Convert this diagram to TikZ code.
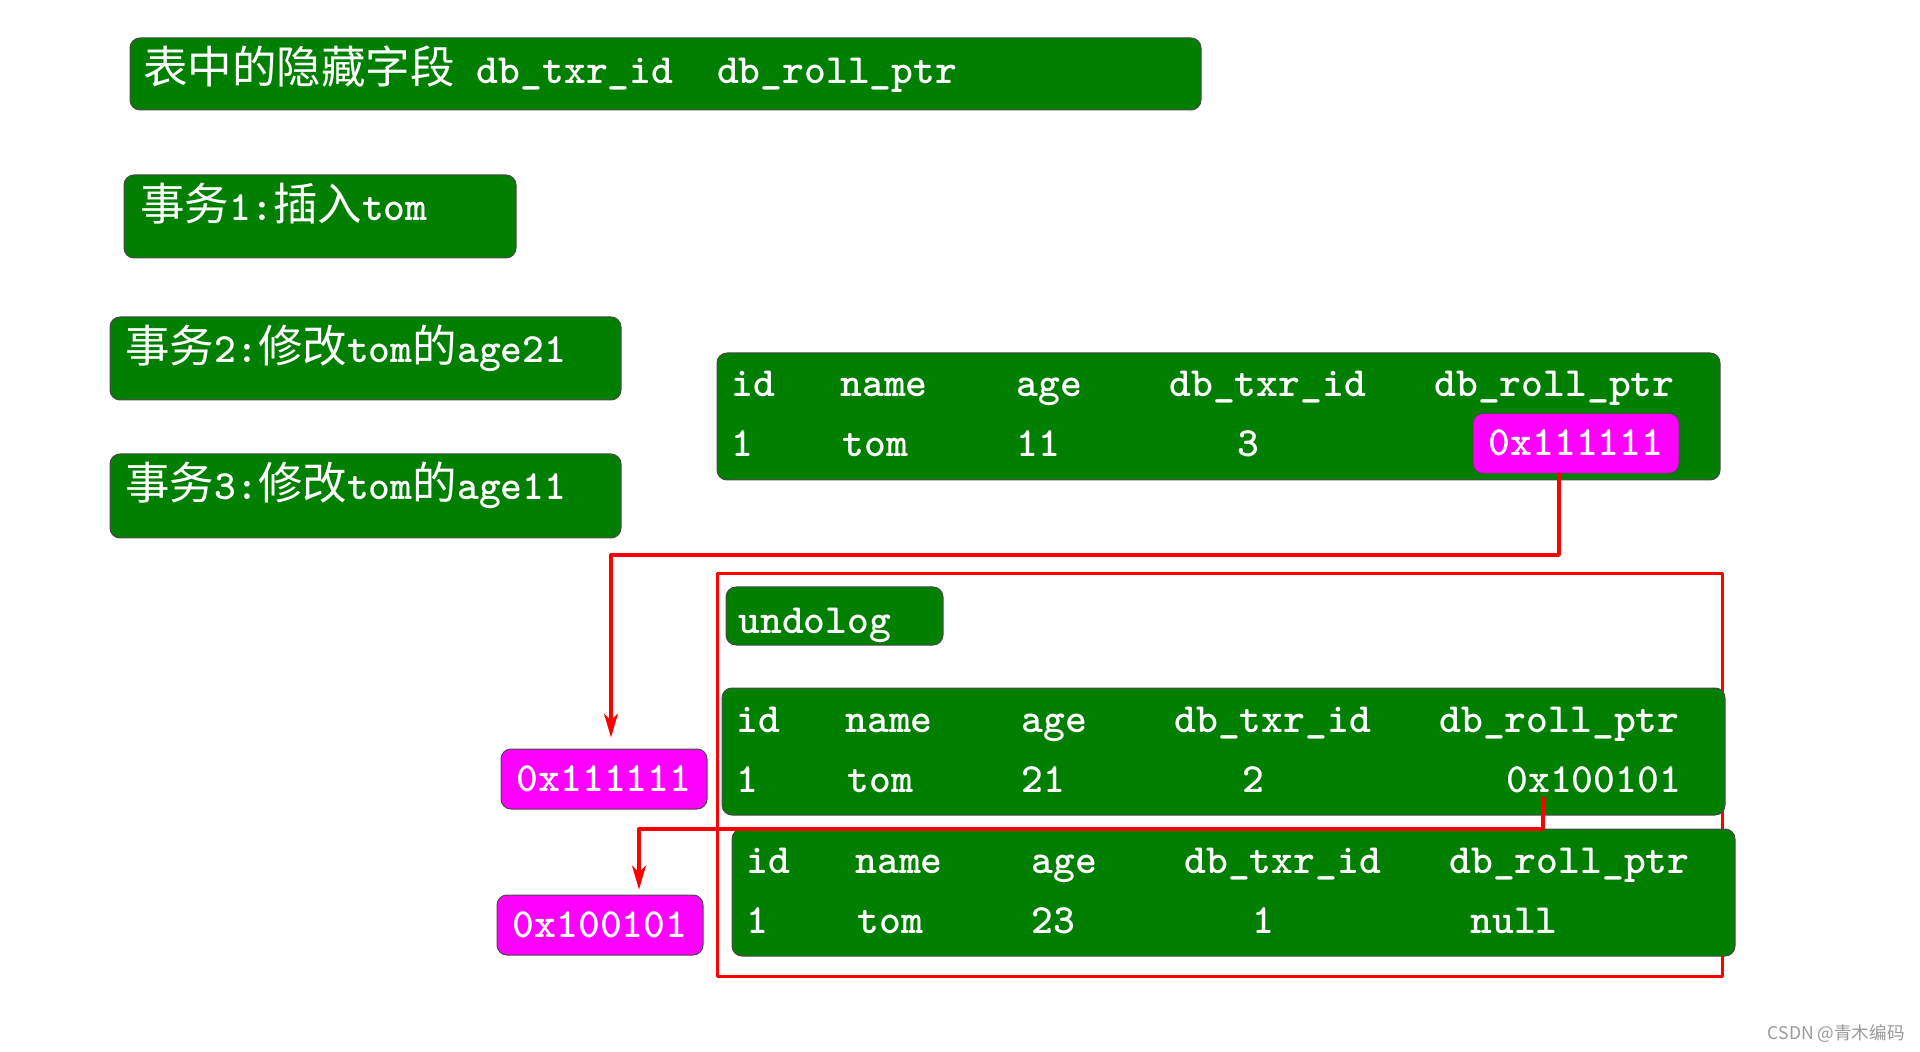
\documentclass[tikz,border=0pt]{standalone}
\usepackage{fontspec}
\newfontfamily\codefont{lmmonolt10-bold.otf}
\newfontfamily\cjk{Noto Sans CJK SC}[Scale=1.07]
\usetikzlibrary{arrows.meta,positioning,fit}
\definecolor{boxGreen}{HTML}{007F00}
\definecolor{boxEdge}{HTML}{4A4A4A}
\definecolor{ptrPink}{HTML}{FF00FF}
\definecolor{linkRed}{HTML}{FF0000}
\definecolor{markGray}{HTML}{9A9A9A}
\newcommand{\cellfont}{\fontsize{20.8}{25}\codefont}
\newcommand{\zh}[1]{{\cjk #1}}
\tikzset{
  undoFig/.style={x=0.5pt, y=-0.5pt, line cap=round, line join=round},
  greenbox/.style={
    draw=boxEdge, line width=0.5pt, fill=boxGreen,
    rounded corners=5pt, inner sep=0pt,
  },
  ptrbox/.style={
    draw=boxEdge, line width=0.5pt, fill=ptrPink,
    rounded corners=5pt, inner sep=0pt, text=white, font=\cellfont,
    minimum width=103pt, minimum height=30pt,
    text height=12.4pt, text depth=0pt,
  },
  cell/.style={anchor=base west, inner sep=0pt, text=white, font=\cellfont},
  undoFrame/.style={draw=linkRed, line width=1.5pt, inner sep=0pt},
  redflow/.style={-{Stealth[length=12pt, width=7pt, inset=3.5pt]}, linkRed, line width=1.7pt},
}
% one row record: name, left, top, age, trx id
\newcommand{\undorecord}[5]{%
  \node[greenbox, fit={(#2,#3) (#2+1003,#3+127)}] (#1) {};
  \foreach \dx/\lab [count=\i] in {14/id, 123/name, 299/age,
      452/db\_txr\_id, 717/db\_roll\_ptr}
    \node[cell] (#1-h\i) at (#2+\dx, #3+44) {\lab};
  \node[cell] (#1-id)   at (#2+14,  #3+104) {1};
  \node[cell] (#1-name) at (#2+125, #3+104) {tom};
  \node[cell] (#1-age)  at (#2+299, #3+104) {#4};
  \node[cell] (#1-trx)  at (#2+520, #3+104) {#5};
}

\begin{document}
\begin{tikzpicture}[undoFig]

\fill[white] (0,0) rectangle (1920,1052);
\useasboundingbox (0,0) rectangle (1920,1052);

% ============================================================
% Header and transactions
% ============================================================
\node[greenbox, fit={(130,38) (1201,110)}] (fieldsbox) {};
\node[cell] (fieldstext) at (143,84)
  {\zh{表中的隐藏字段} db\_txr\_id\ \ db\_roll\_ptr};

\node[greenbox, fit={(124,175) (516,258)}] (txA) {};
\node[cell] (txAtext) at (140,221) {\zh{事务}1:\zh{插入}tom};

\node[greenbox, fit={(110,317) (621,400)}] (txB) {};
\node[cell] (txBtext) at (125,363) {\zh{事务}2:\zh{修改}tom\zh{的}age21};

\node[greenbox, fit={(110,454) (621,538)}] (txC) {};
\node[cell] (txCtext) at (125,500) {\zh{事务}3:\zh{修改}tom\zh{的}age11};

% ============================================================
% Current record
% ============================================================
\undorecord{recA}{717}{353}{11}{3}
\node[ptrbox] (rollA) at (1576,443.5) {0x111111};

% ============================================================
% Undo log
% ============================================================
\node[undoFrame, fit={(717,574) (1722,976)}] (undoarea) {};
\node[greenbox, fit={(726,587) (943,645)}] (undolog) {};
\node[cell] (undologtext) at (738,633) {undolog};

\undorecord{recB}{722}{688}{21}{2}
\node[cell] (recB-ptr) at (1506,792) {0x100101};

\undorecord{recC}{732}{829}{23}{1}
\node[cell] (recC-ptr) at (1470,933) {null};

% pointer addresses
\node[ptrbox] (ptrA) at (604,779) {0x111111};
\node[ptrbox] (ptrB) at (600,925) {0x100101};

% ============================================================
% Roll pointer links
% ============================================================
\coordinate (turnA) at (1559,555);
\coordinate (bendA) at (611,555);
\draw[redflow, shorten >=5.5pt]
  (turnA |- rollA.south) -- (turnA) -- (bendA) -- (bendA |- ptrA.north);

\coordinate (turnB) at (1543,829);
\coordinate (bendB) at (639,829);
\draw[redflow, shorten >=2.5pt]
  ([yshift=-2.5pt]turnB |- recB-ptr.south) -- (turnB) -- (bendB)
  -- (bendB |- ptrB.north);

% watermark
\node[font=\fontsize{8.2}{10}\selectfont\cjk, text=markGray,
      anchor=east, inner sep=0pt] (credit) at (1905,1034) {CSDN @青木编码};

\end{tikzpicture}
\end{document}
